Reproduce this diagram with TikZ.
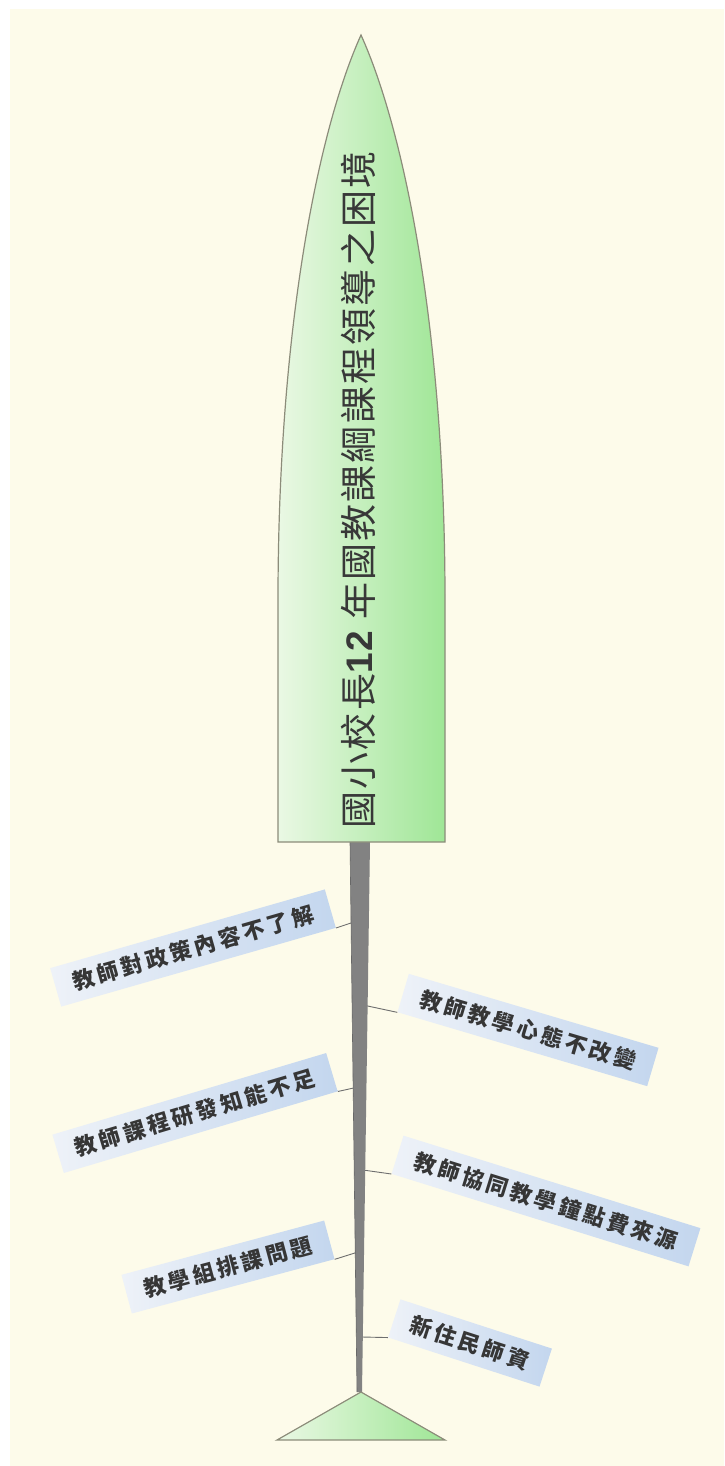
\documentclass[tikz,border=0pt]{standalone}
\usepackage{fontspec}
\newfontfamily\cjk[LetterSpace=6]{Noto Sans CJK TC}
\newfontfamily\cjklab[LetterSpace=15]{Noto Sans CJK TC}
\newfontfamily\latinb[LetterSpace=6]{Liberation Sans}
\definecolor{cream}{HTML}{FDFBEA}
\definecolor{headL}{HTML}{EAF8E4}
\definecolor{headR}{HTML}{9FE696}
\definecolor{headline}{HTML}{8C8C7A}
\definecolor{spinec}{HTML}{828282}
\definecolor{boxL}{HTML}{EEF2F8}
\definecolor{boxR}{HTML}{C3D6EE}
\definecolor{labtext}{HTML}{363636}
\definecolor{titletext}{HTML}{383838}
\definecolor{connc}{HTML}{6E6E6E}
\begin{document}
\begin{tikzpicture}[x=1pt,y=-1pt,
  lab/.style={shape=rectangle, left color=boxL, right color=boxR, text=labtext,
    inner xsep=18pt, inner ysep=0pt, minimum height=40pt,
    font=\cjklab\bfseries\fontsize{22}{22}\selectfont},
  conn/.style={draw=connc, line width=0.9pt},
  headshape/.style={left color=headL, right color=headR, draw=headline, line width=1.2pt}]
\useasboundingbox (0,0) rectangle (724,1466);
\fill[white] (0,0) rectangle (724,1466);
\fill[cream] (10,9) rectangle (724,1466);

% spine points
\coordinate (s1) at (360,920);
\coordinate (s2) at (363,1005);
\coordinate (s3) at (358,1087);
\coordinate (s4) at (363,1170);
\coordinate (s5) at (358,1252);
\coordinate (s6) at (362,1337);

% labels
\node[lab, rotate=16] (b1) at (193,948) {教師對政策內容不了解};
\node[lab, rotate=-16.5] (b2) at (528,1030) {教師教學心態不改變};
\node[lab, rotate=16.6] (b3) at (195,1113) {教師課程研發知能不足};
\node[lab, rotate=-17.3] (b4) at (546,1201) {教師協同教學鐘點費來源};
\node[lab, rotate=15] (b5) at (228,1267) {教學組排課問題};
\node[lab, rotate=-18] (b6) at (470,1343) {新住民師資};

% connectors
\draw[conn] (s1) -- (b1.south east);
\draw[conn] (s2) -- (b2.south west);
\draw[conn] (s3) -- (b3.south east);
\draw[conn] (s4) -- (b4.south west);
\draw[conn] (s5) -- (b5.south east);
\draw[conn] (s6) -- (b6.south west);

% spine
\fill[spinec] (350,842) -- (370,842) -- (362,1392) -- (357,1392) -- cycle;
\draw[spinec!80!black, line width=0.6pt] (350,842) -- (357,1392);

% head
\path[headshape] (278,842) -- (278,600) .. controls (278,330) and (318,130) .. (361,35)
  .. controls (404,130) and (445,330) .. (445,600) -- (445,842) -- cycle;
\node[rotate=90, text=titletext, inner sep=0pt, font=\cjk\fontsize{37}{37}\selectfont] (title) at (358,490)
  {國小校長{\latinb\bfseries 12} 年國教課綱課程領導之困境};

% tail
\path[headshape] (361,1392) -- (445,1440) -- (277,1440) -- cycle;
\end{tikzpicture}
\end{document}
